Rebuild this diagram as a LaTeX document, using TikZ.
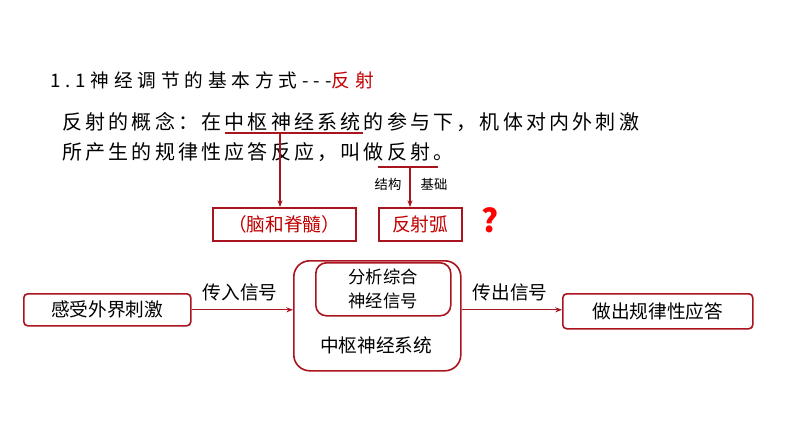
\documentclass[tikz,border=0pt]{standalone}
\usepackage{fontspec}
\setmainfont{Noto Sans CJK SC}
\newfontfamily\spaced[LetterSpace=16]{Noto Sans CJK SC}
\newfontfamily\wide[LetterSpace=26]{Noto Sans CJK SC}
\usetikzlibrary{arrows.meta}
\definecolor{dred}{RGB}{192,0,0}
\definecolor{bred}{RGB}{170,20,30}
\tikzset{
  box/.style = {draw=bred, line width=1.2pt, rounded corners=3pt,
    font=\fontsize{14}{16}\selectfont, inner sep=0pt, anchor=north west},
  plain/.style = {draw=bred, line width=1.2pt, font=\fontsize{14}{16}\selectfont,
    inner sep=0pt, anchor=north west, text=dred},
  line/.style = {draw=bred, line width=1pt, -{Stealth[length=5pt]}},
  say/.style = {font=\fontsize{14}{16}\selectfont, anchor=west, inner sep=0pt}
}
\begin{document}
\begin{tikzpicture}[x=0.75pt, y=-0.75pt]
  \useasboundingbox (0,0) rectangle (794,447);

  % text lines
  \node [say, font=\wide\fontsize{14}{16}\selectfont] (title) at (50,80)
    {1.1神经调节的基本方式-{}-{}-\textcolor{dred}{反射}};
  \node [say, font=\spaced\fontsize{15}{17}\selectfont] (def1) at (62,122)
    {反射的概念：在中枢神经系统的参与下，机体对内外刺激};
  \node [say, font=\spaced\fontsize{15}{17}\selectfont] (def2) at (62,152)
    {所产生的规律性应答反应，叫做反射。};

  % upper boxes
  \node [plain, minimum width=143*0.75pt, minimum height=33*0.75pt] (brain) at (212,207) {（脑和脊髓）};
  \node [plain, minimum width=83*0.75pt, minimum height=33*0.75pt] (arc) at (378,207) {反射弧};
  \node [font=\bfseries\fontsize{24}{24}\selectfont, text=red] (ask) at (490,220) {?};

  \coordinate (ul1a) at (225,133);
  \coordinate (ul1b) at (363,133);
  \coordinate (ul1m) at (280,133);
  \coordinate (ul2a) at (378,167);
  \coordinate (ul2b) at (438,167);
  \coordinate (ul2m) at (410,167);
  \draw [bred, line width=1pt] (ul1a) -- (ul1b);
  \draw [bred, line width=1pt] (ul2a) -- (ul2b);
  \path [line] (ul1m) -- (ul1m |- brain.north);
  \path [line] (ul2m) -- (ul2m |- arc.north);
  \node [font=\fontsize{10}{12}\selectfont] (struct) at (388,184) {结构};
  \node [font=\fontsize{10}{12}\selectfont] (basis) at (434,184) {基础};

  % flow
  \node [box, minimum width=167*0.75pt, minimum height=32*0.75pt] (stim) at (23,293) {感受外界刺激};
  \node [box, rounded corners=12pt, minimum width=167*0.75pt, minimum height=110*0.75pt] (cns) at (293,260) {};
  \node [box, rounded corners=8pt, minimum width=135*0.75pt, minimum height=53*0.75pt,
    align=center, font=\fontsize{13}{18}\selectfont] (inner) at (315,262) {分析综合\\神经信号};
  \node [say, anchor=center] (cnstext) at (376,345) {中枢神经系统};
  \node [box, minimum width=190*0.75pt, minimum height=35*0.75pt] (resp) at (562,293) {做出规律性应答};

  \path [line] (stim.east) -- (stim.east -| cns.west);
  \path [line] (cns.east |- stim.east) -- (stim.east -| resp.west);
  \node [say, anchor=center] (in) at (240,292) {传入信号};
  \node [say, anchor=center] (out) at (510,292) {传出信号};
\end{tikzpicture}
\end{document}
